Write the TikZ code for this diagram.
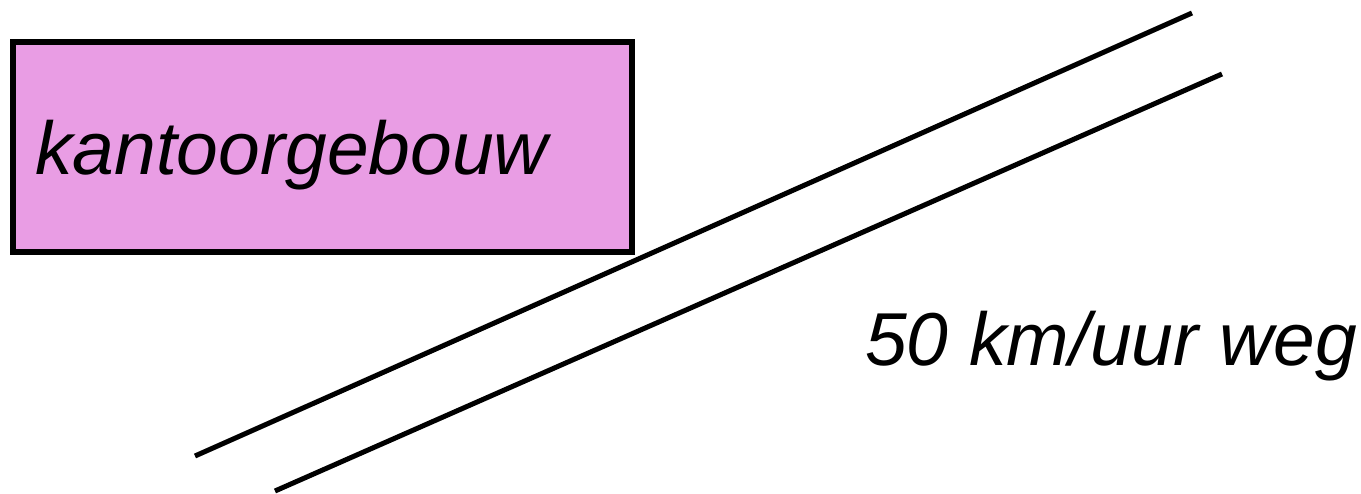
\documentclass[tikz,border=0pt]{standalone}
\usepackage{fontspec}
\setmainfont{Liberation Sans}
\definecolor{buildingpink}{RGB}{233,157,228}
\begin{document}
\begin{tikzpicture}[x=1pt,y=-1pt,
  building/.style={draw=black,fill=buildingpink,line width=5.5pt},
  roadedge/.style={draw=black,line width=5pt},
  label/.style={font=\fontsize{75}{90}\selectfont\itshape,inner sep=0pt,anchor=base west}]
  \useasboundingbox (0,0) rectangle (1361,494);
  % office building
  \path[building] (13,42) rectangle (632,252);
  \node[label] (office) at (35,175) {kantoorgebouw};
  % road edges
  \coordinate (r1a) at (195,456);
  \coordinate (r1b) at (1192,13);
  \coordinate (r2a) at (275,491);
  \coordinate (r2b) at (1222,74);
  \draw[roadedge] (r1a) -- (r1b);
  \draw[roadedge] (r2a) -- (r2b);
  \node[label] (road) at (865,366) {50 km/uur weg};
\end{tikzpicture}
\end{document}
